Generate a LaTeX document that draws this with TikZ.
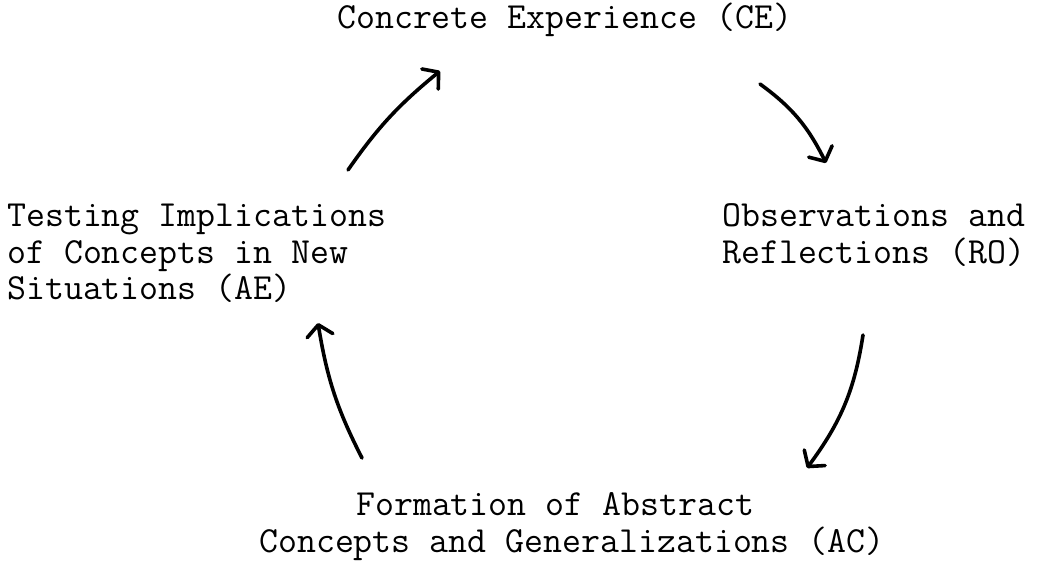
\documentclass[tikz,border=0pt]{standalone}
\usepackage{fontspec}
\usetikzlibrary{arrows.meta,bending}
\begin{document}
\begin{tikzpicture}[x=1pt,y=-1pt,
  lbl/.style={font=\ttfamily\fontsize{36.8}{36.5}\selectfont\addfontfeature{FakeBold=1.6}, inner sep=0pt, anchor=base west},
  flow/.style={line width=3.6pt, line cap=round, line join=round,
    -{Straight Barb[length=11pt,width=26pt,line cap=round,line join=round]}}]
\useasboundingbox (0,0) rectangle (1039,561);
% texts
\node[lbl] (ce) at (337,29) {Concrete Experience (CE)};
\node[lbl] (ro1) at (722,227) {Observations and};
\node[lbl] (ro2) at (722,264) {Reflections (RO)};
\node[lbl] (ac1) at (356,515) {Formation of Abstract};
\node[lbl] (ac2) at (259,552) {Concepts and Generalizations (AC)};
\node[lbl] (ae1) at (7,227) {Testing Implications};
\node[lbl] (ae2) at (7,264) {of Concepts in New};
\node[lbl] (ae3) at (7,300) {Situations (AE)};
% arrow end points
\coordinate (a1s) at (760,84);
\coordinate (a1e) at (826,163);
\coordinate (a2s) at (863,335);
\coordinate (a2e) at (807,468);
\coordinate (a3s) at (362,458);
\coordinate (a3e) at (318,323);
\coordinate (a4s) at (348,170);
\coordinate (a4e) at (440,71);
% arrows
\draw[flow] (a1s) to[bend left=14] (a1e);
\draw[flow] (a2s) to[bend left=14] (a2e);
\draw[flow] (a3s) to[bend left=9] (a3e);
\draw[flow] (a4s) to[bend left=8] (a4e);
\end{tikzpicture}
\end{document}
